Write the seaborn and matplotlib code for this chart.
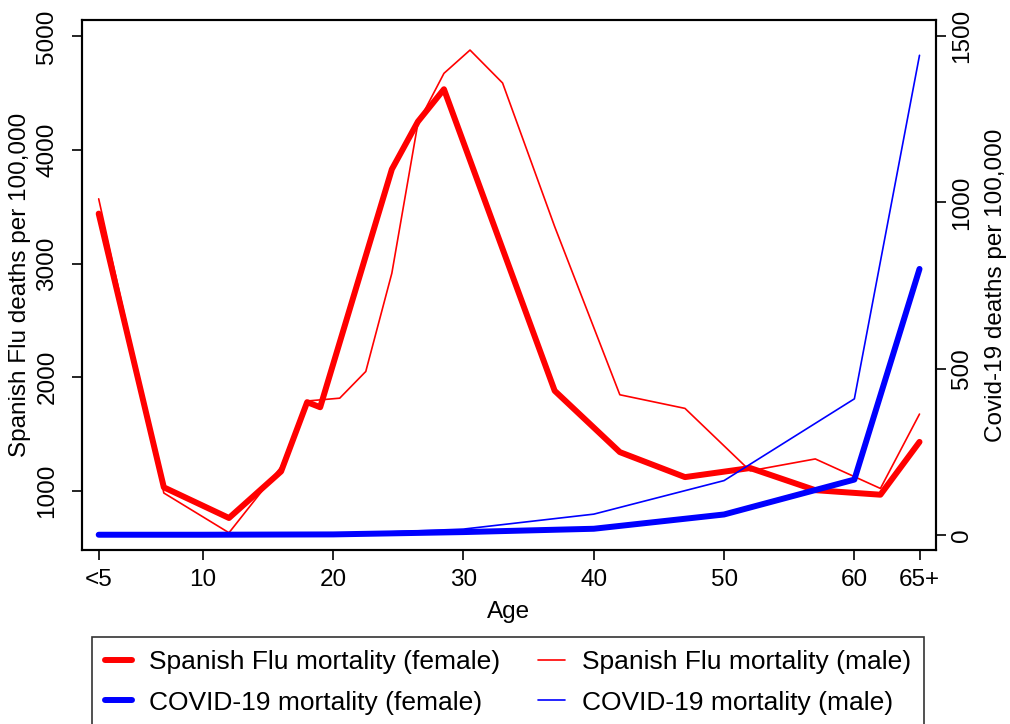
import numpy as np
import matplotlib
matplotlib.use("Agg")
import matplotlib.pyplot as plt
import seaborn as sns
import pandas as pd

# Spanish flu (left axis), deaths per 100,000
flu_age_f = [2, 7, 12, 16, 18, 19, 24.5, 26.5, 28.5, 37, 42, 47, 52, 57, 62, 65]
flu_f = [3440, 1030, 760, 1170, 1780, 1735, 3830, 4250, 4535, 1880, 1340, 1120, 1200, 1005, 965, 1430]
flu_age_m = [2, 7, 12, 16, 18, 20.5, 22.5, 24.5, 26.5, 28.5, 30.5, 33, 37, 42, 47, 52, 57, 62, 65]
flu_m = [3570, 980, 630, 1210, 1790, 1815, 2050, 2915, 4235, 4675, 4880, 4590, 3325, 1845, 1725, 1175, 1280, 1020, 1675]

# Covid-19 (right axis), deaths per 100,000
covid_age = [2, 10, 20, 30, 40, 50, 60, 65]
covid_f = [0, 0, 1, 8, 18, 61, 166, 800]
covid_m = [0, 0, 2, 17, 62, 163, 409, 1443]

age_ticks = [2, 10, 20, 30, 40, 50, 60, 65]
age_labels = ["<5", "10", "20", "30", "40", "50", "60", "65+"]

sns.set_style("ticks")
plt.rcParams["font.family"] = ["Liberation Sans", "DejaVu Sans"]
for k in ["text.color", "axes.labelcolor", "xtick.color", "ytick.color"]:
    plt.rcParams[k] = "black"
FS = 17.5

fig = plt.figure(figsize=(10.1, 7.24), dpi=100)
ax = fig.add_axes([0.0812, 0.2403, 0.8452, 0.7315])
ax2 = ax.twinx()

sns.lineplot(x=flu_age_f, y=flu_f, ax=ax, color="#ff0000", linewidth=4.3, label="Spanish Flu mortality (female)")
sns.lineplot(x=flu_age_m, y=flu_m, ax=ax, color="#ff0000", linewidth=1.2, label="Spanish Flu mortality (male)")
sns.lineplot(x=covid_age, y=covid_f, ax=ax2, color="#0000ff", linewidth=4.3, label="COVID-19 mortality (female)")
sns.lineplot(x=covid_age, y=covid_m, ax=ax2, color="#0000ff", linewidth=1.2, label="COVID-19 mortality (male)")

ax.set_xlim(0.72, 66.24)
ax.set_ylim(478, 5141)
ax2.set_ylim(-46, 1548)

ax.set_xticks(age_ticks)
ax.set_xticklabels(age_labels)
ax.set_yticks([1000, 2000, 3000, 4000, 5000])
ax2.set_yticks([0, 500, 1000, 1500])

ax.set_xlabel("Age", fontsize=FS, labelpad=7)
ax.set_ylabel("Spanish Flu deaths per 100,000", fontsize=FS, labelpad=4)
ax2.set_ylabel("Covid-19 deaths per 100,000", fontsize=FS, labelpad=9)

ax.tick_params(axis="x", labelsize=FS, length=7, width=1.2, pad=7, direction="out", bottom=True)
ax.tick_params(axis="y", labelsize=FS, length=7, width=1.2, pad=10, labelrotation=90, direction="out", left=True)
ax2.tick_params(axis="y", labelsize=FS, length=7, width=1.2, pad=4, labelrotation=90, direction="out", right=True)
for lab in ax.get_yticklabels() + ax2.get_yticklabels():
    lab.set_va("center")

for a in (ax, ax2):
    for sp in a.spines.values():
        sp.set_linewidth(1.5)
        sp.set_color("black")

h1, l1 = ax.get_legend_handles_labels()
h2, l2 = ax2.get_legend_handles_labels()
ax.get_legend().remove()
ax2.get_legend().remove()
handles = [h1[0], h2[0], h1[1], h2[1]]
labels = [l1[0], l2[0], l1[1], l2[1]]
leg = fig.legend(handles, labels, loc="upper left", bbox_to_anchor=(92 / 1010, 1 - 637 / 724),
                 ncol=2, frameon=True, fancybox=False, edgecolor="black", borderaxespad=0,
                 fontsize=19, handlelength=1.0, handletextpad=0.65, columnspacing=1.45,
                 labelspacing=0.62, borderpad=0.5)
leg.get_frame().set_linewidth(1.2)

fig.savefig("out.png", dpi=100)
